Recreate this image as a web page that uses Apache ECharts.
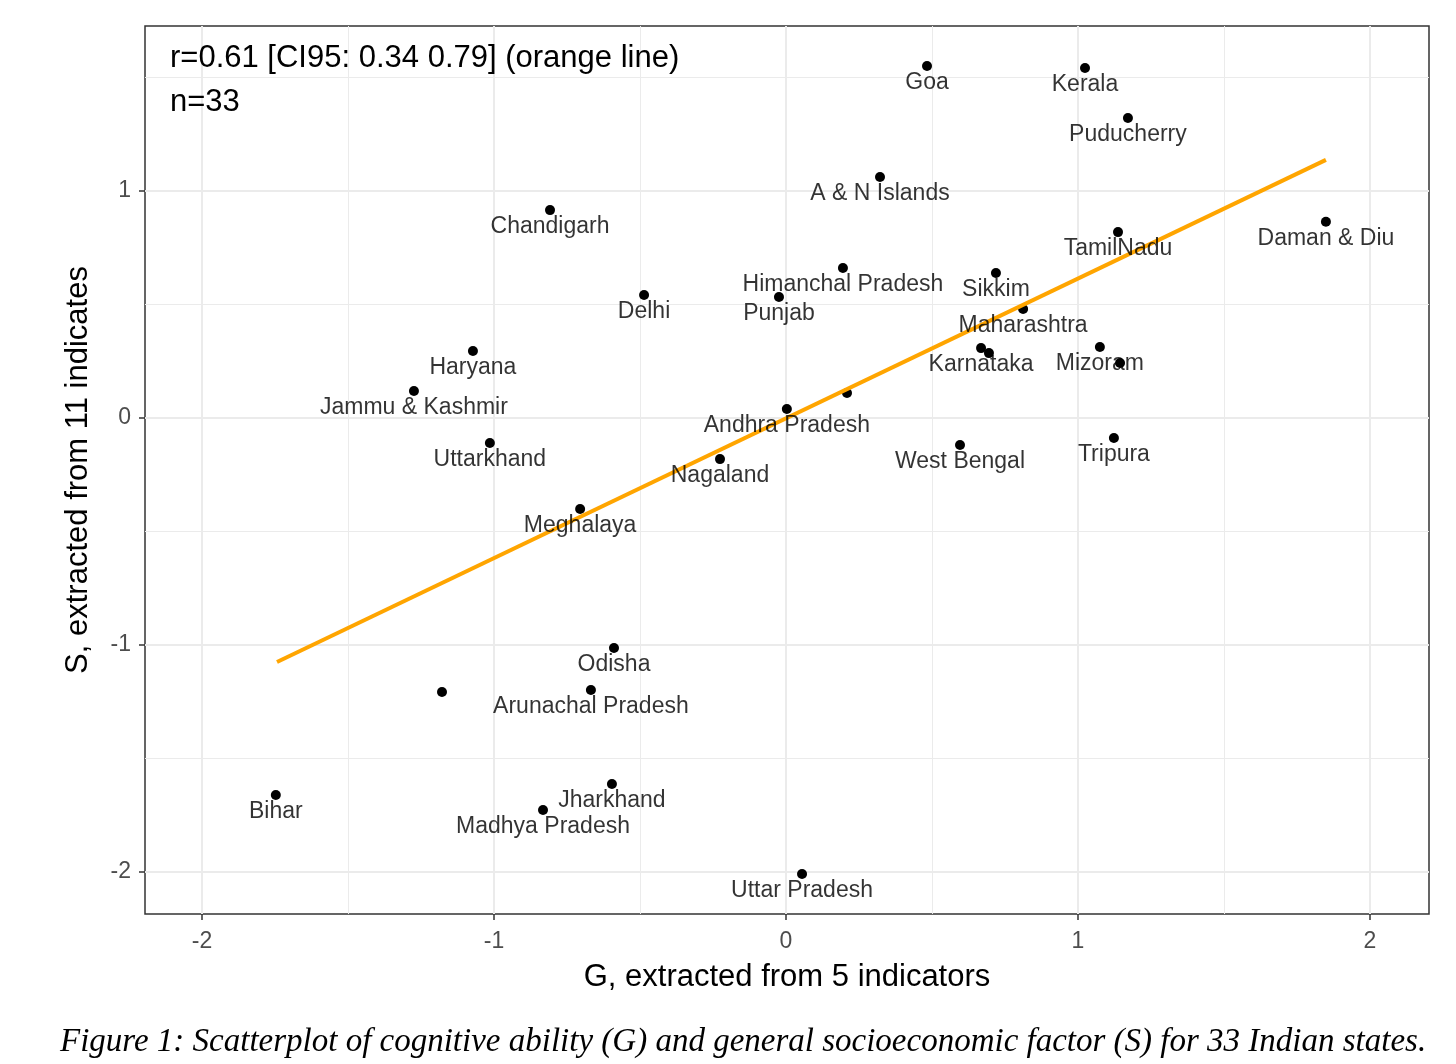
<!DOCTYPE html>
<html><head><meta charset="utf-8">
<script src="https://cdn.jsdelivr.net/npm/echarts@6/dist/echarts.min.js"></script>
<style>html,body{margin:0;padding:0;background:#fff;} #c{width:1456px;height:1064px;}</style>
</head><body><div id="c"></div>
<script>
const stateNames = ["Goa","Kerala","Puducherry","A & N Islands","Chandigarh","TamilNadu","Daman & Diu","Himanchal Pradesh","Sikkim","Delhi","Punjab","Maharashtra","Haryana","Karnataka","","Mizoram","","Jammu & Kashmir","Andhra Pradesh","","Uttarkhand","West Bengal","Tripura","Nagaland","Meghalaya","Odisha","","Arunachal Pradesh","Jharkhand","Madhya Pradesh","Bihar","Uttar Pradesh"];
const gValues = [0.483,1.024,1.171,0.322,-0.808,1.137,1.849,0.195,0.719,-0.486,-0.024,0.812,-1.072,0.668,0.695,1.075,1.144,-1.274,0.003,0.209,-1.014,0.596,1.123,-0.226,-0.705,-0.589,-1.178,-0.668,-0.596,-0.832,-1.747,0.055];
const sValues = [1.551,1.542,1.322,1.062,0.916,0.819,0.865,0.661,0.639,0.542,0.533,0.480,0.295,0.308,0.286,0.313,0.242,0.119,0.040,0.110,-0.110,-0.119,-0.088,-0.181,-0.401,-1.013,-1.207,-1.198,-1.612,-1.727,-1.661,-2.009];
const fitLineG = [-1.743, 1.849];
const fitLineS = [-1.075, 1.137];
const xTickValues = [-2,-1,0,1,2];
const yTickValues = [-2,-1,0,1];
const xMinorValues = [-1.5,-0.5,0.5,1.5];
const yMinorValues = [-1.5,-0.5,0.5,1.5];
const annotationLines = ["r=0.61 [CI95: 0.34 0.79] (orange line)", "n=33"];
const captionText = "Figure 1: Scatterplot of cognitive ability (G) and general socioeconomic factor (S) for 33 Indian states.";

const FONT = "Liberation Sans, Arial, sans-serif";
const points = gValues.map((g,i)=>({name: stateNames[i], value:[g, sValues[i]]}));
const fitData = fitLineG.map((g,i)=>[g, fitLineS[i]]);

const gridMarks = [];
xTickValues.forEach(v=>gridMarks.push({xAxis:v, lineStyle:{width:2}}));
yTickValues.forEach(v=>gridMarks.push({yAxis:v, lineStyle:{width:2}}));
xMinorValues.forEach(v=>gridMarks.push({xAxis:v, lineStyle:{width:1}}));
yMinorValues.forEach(v=>gridMarks.push({yAxis:v, lineStyle:{width:1}}));

const chart = echarts.init(document.getElementById('c'), null, {renderer:'canvas'});
chart.setOption({
  animation:false,
  backgroundColor:'#ffffff',
  grid:{left:145, top:26, width:1284, height:888, show:true, borderColor:'#333333', borderWidth:1.5, backgroundColor:'transparent', containLabel:false},
  xAxis:{type:'value', min:-2.195, max:2.202,
    axisLine:{show:false, onZero:false},
    axisTick:{show:true, length:6, customValues:xTickValues, lineStyle:{color:'#333333', width:1.5}},
    axisLabel:{customValues:xTickValues, color:'#4d4d4d', fontSize:23, fontFamily:FONT, margin:16},
    splitLine:{show:false},
    name:'G, extracted from 5 indicators', nameLocation:'middle', nameGap:48,
    nameTextStyle:{fontSize:31, color:'#000', fontFamily:FONT}},
  yAxis:{type:'value', min:-2.185, max:1.727,
    axisLine:{show:false, onZero:false},
    axisTick:{show:true, length:6, customValues:yTickValues, lineStyle:{color:'#333333', width:1.5}},
    axisLabel:{customValues:yTickValues, color:'#4d4d4d', fontSize:23, fontFamily:FONT, margin:14},
    splitLine:{show:false},
    name:'S, extracted from 11 indicates', nameLocation:'middle', nameGap:51,
    nameTextStyle:{fontSize:31, color:'#000', fontFamily:FONT}},
  series:[
    {type:'scatter', data:[], z:1, silent:true,
      markLine:{z:1, silent:true, symbol:['none','none'], label:{show:false},
        lineStyle:{color:'#ebebeb', type:'solid'}, data:gridMarks, animation:false}},
    {type:'scatter', data:points, symbolSize:10, itemStyle:{color:'#000', opacity:1}, z:2},
    {type:'line', data:fitData, showSymbol:false, lineStyle:{color:'#FFA500', width:4}, z:3},
    {type:'scatter', data:points, symbolSize:1, itemStyle:{color:'rgba(0,0,0,0)'}, z:4, silent:true,
      label:{show:true, position:'inside', offset:[0,17], formatter:p=>p.name, color:'#000', textBorderWidth:0, fontSize:23, fontFamily:FONT}}
  ],
  graphic:[
    {type:'text', z:100, left:170, top:43, style:{text:annotationLines[0], fontSize:31, fontFamily:FONT, fill:'#000'}},
    {type:'text', z:100, left:170, top:87, style:{text:annotationLines[1], fontSize:31, fontFamily:FONT, fill:'#000'}},
    {type:'text', z:100, left:60, top:1026, style:{text:captionText, fontSize:33, fontStyle:'italic', fontFamily:'Liberation Serif, Times New Roman, serif', fill:'#000'}}
  ]
});
</script></body></html>
